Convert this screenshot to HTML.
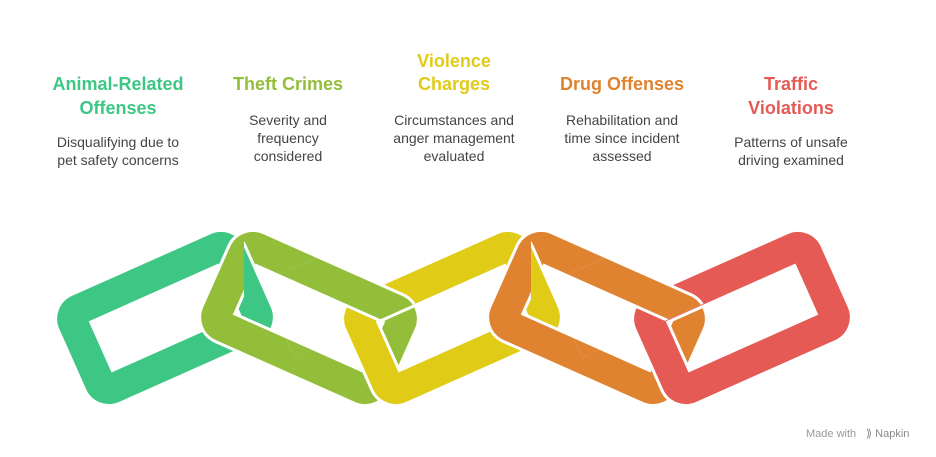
<!DOCTYPE html>
<html><head><meta charset="utf-8"><style>
html,body{margin:0;padding:0;background:#fff;}
svg{display:block;font-family:"Liberation Sans",sans-serif;}
.t{font-weight:bold;font-size:18px;text-anchor:middle;}
.d{font-size:14px;fill:#444;text-anchor:middle;}
</style></head><body>
<svg width="936" height="457" viewBox="0 0 936 457">
<defs>
<clipPath id="ka" clipPathUnits="userSpaceOnUse"><polygon points="116.1,-66.6 170.9,-42.2 134.3,40.1 79.5,15.7"/></clipPath>
<clipPath id="kb" clipPathUnits="userSpaceOnUse"><polygon points="-58.2,-12.8 156.1,-250.7 216.9,-195.9 2.8,42"/></clipPath>
</defs>
<g fill="none">
<g transform="translate(165,318) rotate(-24)"><rect x="-86" y="-43" width="172" height="86" rx="10" stroke="#fff" stroke-width="36"/><rect x="-86" y="-43" width="172" height="86" rx="10" stroke="#3ec784" stroke-width="30"/></g>
<g transform="translate(309,318) rotate(24)"><rect x="-86" y="-43" width="172" height="86" rx="10" stroke="#fff" stroke-width="36"/><rect x="-86" y="-43" width="172" height="86" rx="10" stroke="#92be3a" stroke-width="30"/></g>
<g transform="translate(452,318) rotate(-24)"><rect x="-86" y="-43" width="172" height="86" rx="10" stroke="#fff" stroke-width="36"/><rect x="-86" y="-43" width="172" height="86" rx="10" stroke="#e0cb17" stroke-width="30"/></g>
<g transform="translate(597,318) rotate(24)"><rect x="-86" y="-43" width="172" height="86" rx="10" stroke="#fff" stroke-width="36"/><rect x="-86" y="-43" width="172" height="86" rx="10" stroke="#df8330" stroke-width="30"/></g>
<g transform="translate(742,318) rotate(-24)"><rect x="-86" y="-43" width="172" height="86" rx="10" stroke="#fff" stroke-width="36"/><rect x="-86" y="-43" width="172" height="86" rx="10" stroke="#e55a55" stroke-width="30"/></g>

<g transform="translate(165,318) rotate(-24)"><g clip-path="url(#ka)"><rect x="-86" y="-43" width="172" height="86" rx="10" stroke="#fff" stroke-width="36"/><rect x="-86" y="-43" width="172" height="86" rx="10" stroke="#3ec784" stroke-width="30"/></g></g>
<g transform="translate(309,318) rotate(24)"><g clip-path="url(#kb)"><rect x="-86" y="-43" width="172" height="86" rx="10" stroke="#fff" stroke-width="36"/><rect x="-86" y="-43" width="172" height="86" rx="10" stroke="#92be3a" stroke-width="30"/></g></g>
<g transform="translate(452,318) rotate(-24)"><g clip-path="url(#ka)"><rect x="-86" y="-43" width="172" height="86" rx="10" stroke="#fff" stroke-width="36"/><rect x="-86" y="-43" width="172" height="86" rx="10" stroke="#e0cb17" stroke-width="30"/></g></g>
<g transform="translate(597,318) rotate(24)"><g clip-path="url(#kb)"><rect x="-86" y="-43" width="172" height="86" rx="10" stroke="#fff" stroke-width="36"/><rect x="-86" y="-43" width="172" height="86" rx="10" stroke="#df8330" stroke-width="30"/></g></g>
</g>

<text class="t" fill="#3ec784" x="118" y="90">Animal-Related</text>
<text class="t" fill="#3ec784" x="118" y="114">Offenses</text>
<text class="d" x="118" y="147">Disqualifying due to</text>
<text class="d" x="118" y="165">pet safety concerns</text>

<text class="t" fill="#92be3a" x="288" y="90">Theft Crimes</text>
<text class="d" x="288" y="125">Severity and</text>
<text class="d" x="288" y="143">frequency</text>
<text class="d" x="288" y="161">considered</text>

<text class="t" fill="#e0cb17" x="454" y="67">Violence</text>
<text class="t" fill="#e0cb17" x="454" y="90">Charges</text>
<text class="d" x="454" y="125">Circumstances and</text>
<text class="d" x="454" y="143">anger management</text>
<text class="d" x="454" y="161">evaluated</text>

<text class="t" fill="#df8330" x="622" y="90">Drug Offenses</text>
<text class="d" x="622" y="125">Rehabilitation and</text>
<text class="d" x="622" y="143">time since incident</text>
<text class="d" x="622" y="161">assessed</text>

<text class="t" fill="#e55a55" x="791" y="90">Traffic</text>
<text class="t" fill="#e55a55" x="791" y="114">Violations</text>
<text class="d" x="791" y="147">Patterns of unsafe</text>
<text class="d" x="791" y="165">driving examined</text>

<text x="806" y="437" font-size="11" fill="#999">Made with</text>
<text x="866" y="437" font-size="11" fill="#888">⟫ Napkin</text>
</svg>
</body></html>
